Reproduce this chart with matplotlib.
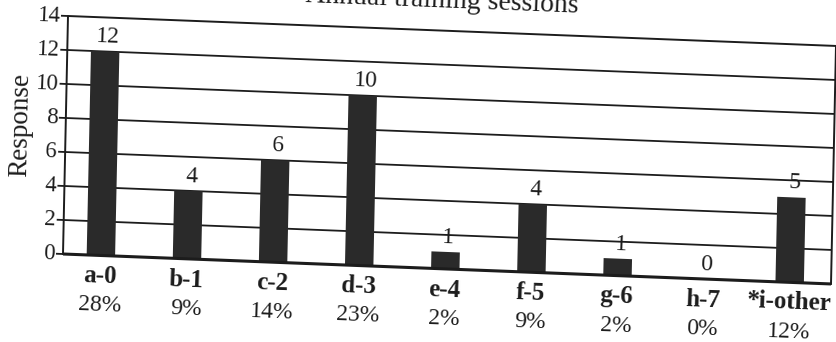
import numpy as np
import matplotlib
matplotlib.use("Agg")
import matplotlib.pyplot as plt
from matplotlib.transforms import Affine2D

title = "Annual training sessions"
y_label = "Response"
categories = ["a-0", "b-1", "c-2", "d-3", "e-4", "f-5", "g-6", "h-7", "*i-other"]
responses = [12, 4, 6, 10, 1, 4, 1, 0, 5]
shares = ["28%", "9%", "14%", "23%", "2%", "9%", "2%", "0%", "12%"]
y_ticks = [0, 2, 4, 6, 8, 10, 12, 14]

plt.rcParams["font.family"] = ["Liberation Serif", "DejaVu Serif"]

W, H, DPI = 837, 342, 100
fig = plt.figure(figsize=(W / DPI, H / DPI), dpi=DPI)
fig.patch.set_facecolor("white")

# plot box in pixels (left, bottom, width, height)
L, B, AW, AH = 63, 88, 768, 238
ax = fig.add_axes([L / W, B / H, AW / W, AH / H])
ax.set_axis_off()

# the printed page sits slightly askew: a small shear/rotation about the
# lower-left corner of the plot box
tilt = Affine2D(np.array([[1.0, 0.021, 0.0],
                          [-0.039, 1.0, 0.0],
                          [0.0, 0.0, 1.0]]))
skew = Affine2D().translate(-L, -B) + tilt + Affine2D().translate(L, B)
tdata = ax.transData + skew
taxes = ax.transAxes + skew

ink = "#1c1c1c"
bar_col = "#2a2a2a"

x = np.arange(len(categories))
x0, x1 = -0.44, 8.48
tick_len = 7 / (AW / (x1 - x0))

# grid lines, frame and ticks
ax.hlines(y_ticks[1:-1], x0, x1, colors=ink, lw=1.3, transform=tdata,
          clip_on=False, zorder=1)
ax.plot([x0, x0, x1, x1], [0, y_ticks[-1], y_ticks[-1], 0], color=ink,
        lw=1.4, transform=tdata, clip_on=False, zorder=1)
ax.hlines(0, x0, x1, colors=ink, lw=2.2, transform=tdata, clip_on=False,
          zorder=4)
ax.hlines(y_ticks, x0 - tick_len, x0, colors=ink, lw=1.3, transform=tdata,
          clip_on=False, zorder=1)

for yv in y_ticks:
    ax.text(x0 - tick_len - 0.01, yv, str(yv), ha="right", va="center",
            fontsize=16.5, color=ink, transform=tdata,
            transform_rotates_text=True, clip_on=False)

# bars
ax.bar(x, responses, width=0.33, color=bar_col, transform=tdata,
       clip_on=False, zorder=3)

ax.set_xlim(x0, x1)
ax.set_ylim(y_ticks[0], y_ticks[-1])

# value labels, category names and shares
for xi, v, cat, sh in zip(x, responses, categories, shares):
    ax.text(xi + 0.03, v + 0.5, str(v), ha="center", va="baseline",
            fontsize=17, color=ink, transform=tdata,
            transform_rotates_text=True, clip_on=False)
    ax.text(xi, -1.65, cat, ha="center", va="baseline", fontsize=18,
            fontweight="bold", color=ink, transform=tdata,
            transform_rotates_text=True, clip_on=False)
    ax.text(xi, -3.3, sh, ha="center", va="baseline", fontsize=17,
            color=ink, transform=tdata, transform_rotates_text=True,
            clip_on=False)

ax.text(0.486, 1.074, title, ha="center", va="baseline", fontsize=20,
        color=ink, transform=taxes, transform_rotates_text=True,
        clip_on=False)
ax.text(-0.058, 0.535, y_label, ha="center", va="center", rotation=90,
        fontsize=19.5, color=ink, transform=taxes,
        transform_rotates_text=True, clip_on=False)

fig.savefig("out.png", dpi=DPI, facecolor="white")
